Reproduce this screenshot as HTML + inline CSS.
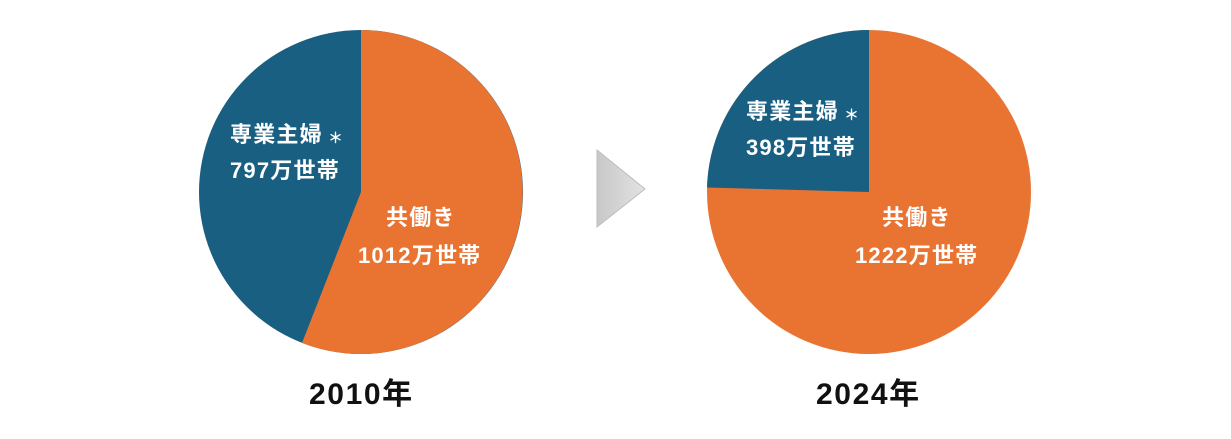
<!DOCTYPE html>
<html><head><meta charset="utf-8"><style>
body{margin:0;background:#fff;}
svg text{font-family:"Liberation Sans","Noto Sans CJK JP",sans-serif;font-weight:bold;}
</style></head><body>
<svg width="1231" height="434" viewBox="0 0 1231 434" xmlns="http://www.w3.org/2000/svg">
<defs><linearGradient id="g" x1="0" y1="0" x2="1" y2="0"><stop offset="0" stop-color="#c8c8c8"/><stop offset="1" stop-color="#e2e2e2"/></linearGradient></defs>
<circle cx="361" cy="192" r="162" fill="#185F82"/>
<path d="M361 192 L361 30 A162 162 0 1 1 302 343 Z" fill="#E97432"/>
<circle cx="869" cy="192" r="162" fill="#E97432"/>
<path d="M869 192 L869 30 A162 162 0 0 0 707 187.5 Z" fill="#185F82"/>
<polygon points="597,150 645,189 597,227" fill="url(#g)" stroke="#bdbdbd" stroke-width="1"/>
<g fill="#fff" font-size="22" letter-spacing="1.2">
<text x="230" y="142">専業主婦</text><text x="328" y="143" font-size="15">＊</text>
<text x="230" y="178">797万世帯</text>
<text x="386" y="225">共働き</text>
<text x="358" y="263">1012万世帯</text>
<text x="746" y="119">専業主婦</text><text x="844" y="120" font-size="15">＊</text>
<text x="746" y="155">398万世帯</text>
<text x="882" y="225">共働き</text>
<text x="855" y="263">1222万世帯</text>
</g>
<g fill="#111" font-size="30" letter-spacing="1.6">
<text x="309" y="404">2010年</text>
<text x="816" y="404">2024年</text>
</g>
</svg>
</body></html>
